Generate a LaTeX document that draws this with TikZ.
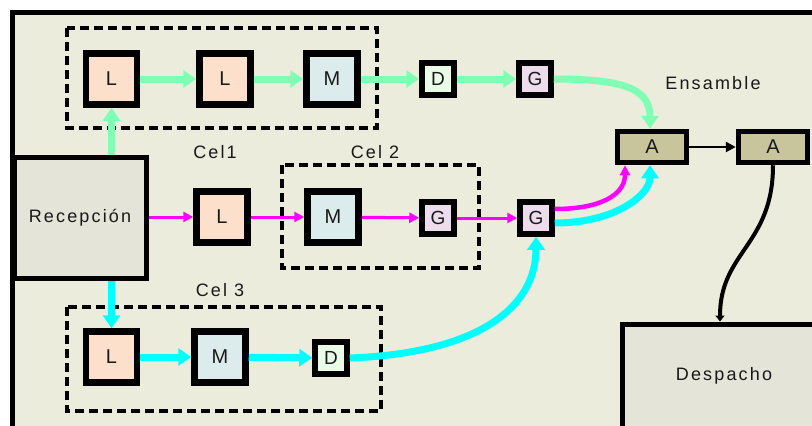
\documentclass[tikz,border=0pt]{standalone}
\usepackage{fontspec}
\setmainfont{Liberation Sans}[LetterSpace=12]
\usetikzlibrary{arrows.meta}
\definecolor{fondo}{HTML}{ECECDC}
\definecolor{gris}{HTML}{E4E4D8}
\definecolor{colL}{HTML}{FCE0CC}
\definecolor{colM}{HTML}{DCECEC}
\definecolor{colD}{HTML}{E8FCE8}
\definecolor{colG}{HTML}{ECDCEC}
\definecolor{colA}{HTML}{C8C49C}
\definecolor{verde}{HTML}{80FFB4}
\definecolor{celeste}{HTML}{00FFFF}
\definecolor{fucsia}{HTML}{FF00FF}

\begin{document}
\begin{tikzpicture}[x=1pt,y=-1pt,
    every node/.style={font=\fontsize{18}{18}\selectfont,text=black!90},
    caja/.style={draw,line width=6.5pt,minimum size=51pt,inner sep=0pt,font=\fontsize{20}{20}\selectfont},
    cajita/.style={draw,line width=5.5pt,minimum size=32pt,inner sep=0pt,font=\fontsize{19}{19}\selectfont},
    ensam/.style={draw,line width=5.5pt,minimum width=69pt,minimum height=31pt,inner sep=0pt,fill=colA,font=\fontsize{20}{20}\selectfont},
    grande/.style={draw,line width=5pt,fill=gris,inner sep=0pt},
    celda/.style={line width=3.5pt,dash pattern=on 9pt off 5pt},
    fverde/.style={verde,line width=7pt,-{Triangle[width=17pt,length=13pt]}},
    fceleste/.style={celeste,line width=7pt,-{Triangle[width=17pt,length=13pt]}},
    ffucsia/.style={fucsia,line width=3pt,-{Triangle[width=10pt,length=10pt]}}]
  \useasboundingbox (0,0) rectangle (812,426);
  \clip (0,0) rectangle (812,426);
  \fill[white] (0,0) rectangle (812,426);
  %marco
  \draw[line width=5pt,fill=fondo] (12.5,12.5) rectangle (840,450);
  %celdas
  \draw[celda] (67,28) rectangle (377,128);
  \draw[celda] (282,165) rectangle (479,268);
  \draw[celda] (67,307) rectangle (381,411);
  \node (cel1) at (215,152) {Cel1};
  \node (cel2) at (375,152) {Cel 2};
  \node (cel3) at (220,290) {Cel 3};
  \node (ens) at (713,83) {Ensamble};
  %recepcion y despacho
  \node[grande,minimum width=132pt,minimum height=121pt] (rec) at (80,217.5) {Recepción};
  \node[grande,minimum width=204pt,minimum height=104pt] (desp) at (724,376) {Despacho};
  %fila 1
  \node[caja,fill=colL] (l1) at (111.5,79) {L};
  \node[caja,fill=colL] (l2) at (225,79) {L};
  \node[caja,fill=colM] (m1) at (332,79) {M};
  \node[cajita,fill=colD] (d1) at (438,79) {D};
  \node[cajita,fill=colG] (g1) at (535,79) {G};
  %fila 2
  \node[caja,fill=colL] (l2b) at (222,217) {L};
  \node[caja,fill=colM] (m2) at (333,217) {M};
  \node[cajita,fill=colG] (g2a) at (438,218) {G};
  \node[cajita,fill=colG] (g2b) at (536,218) {G};
  %fila 3
  \node[caja,fill=colL] (l3) at (111.5,357) {L};
  \node[caja,fill=colM] (m3) at (220,357) {M};
  \node[cajita,fill=colD] (d3) at (331,358) {D};
  %ensamble
  \node[ensam] (a1) at (652,147) {A};
  \node[ensam] (a2) at (773,147) {A};
  %flechas verdes
  \draw[fverde] (rec.north -| l1) -- (l1.south);
  \draw[fverde] (l1) -- (l2);
  \draw[fverde] (l2) -- (m1);
  \draw[fverde] (m1) -- (d1);
  \draw[fverde] (d1) -- (g1);
  \draw[fverde] (g1.east) .. controls +(70,0) and +(0,-40) .. ([xshift=-2pt]a1.north);
  %flechas fucsia
  \draw[ffucsia] (rec.east |- l2b) -- (l2b);
  \draw[ffucsia] (l2b) -- (m2);
  \draw[ffucsia] (m2) -- (g2a);
  \draw[ffucsia] (g2a) -- (g2b);
  \draw[ffucsia,line width=4.5pt] ([yshift=9pt]g2b.east) .. controls +(45,0) and +(0,30) .. ([xshift=-27pt]a1.south);
  %flechas celestes
  \draw[fceleste] (rec.south -| l3) -- (l3.north);
  \draw[fceleste] (l3) -- (m3);
  \draw[fceleste] (m3) -- (d3);
  \draw[fceleste] (d3.east) .. controls +(130,-5) and +(0,70) .. (g2b.south);
  \draw[fceleste] ([yshift=-5pt]g2b.east) .. controls +(60,0) and +(0,30) .. ([xshift=-2pt]a1.south);
  %salida
  \draw[line width=2.5pt,-{Triangle[width=10pt,length=10pt]}] (a1) -- (a2);
  \draw[line width=4pt,-{Triangle[width=9pt,length=6pt]}] (a2.south) .. controls +(0,80) and +(0,-70) .. ([xshift=-4pt]desp.north);
\end{tikzpicture}
\end{document}
